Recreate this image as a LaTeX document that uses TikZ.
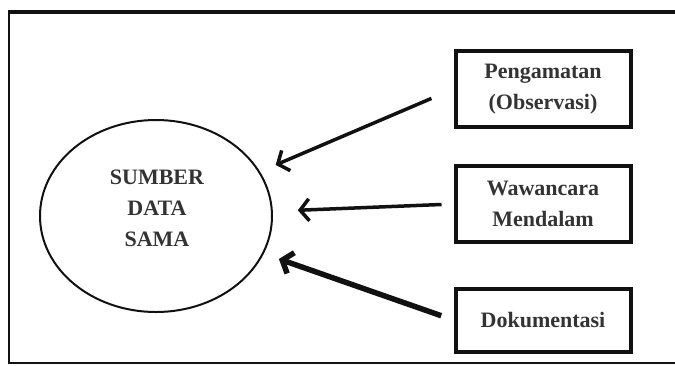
\documentclass[tikz,border=0pt]{standalone}
\usepackage{fontspec}
\setmainfont{Liberation Serif}
\usepackage{xcolor}
\usepackage{tikz}
\usetikzlibrary{arrows.meta,positioning,shapes.geometric}
\definecolor{inkc}{HTML}{111111}
\definecolor{textc}{HTML}{333333}
\tikzset{
  ar/.style={-{Straight Barb[length=9pt,width=22pt]},line width=3.5pt,inkc},
  srcbox/.style={draw=inkc,line width=4pt,minimum width=175pt,align=center,
    font=\fontsize{22}{31}\selectfont\bfseries,text=textc,inner sep=2pt},
  pool/.style={draw=inkc,ellipse,line width=2pt,minimum width=232pt,minimum height=192pt,
    inner sep=0pt}
}
\begin{document}
\begin{tikzpicture}[x=1pt,y=-1pt]
\useasboundingbox (0,0) rectangle (675,365);
\draw[inkc,line width=2.5pt] (9,12) rectangle (690,363);
\draw[inkc,line width=4.5pt] (7.75,12) -- (690,12);
% data source
\node[pool] (sumber) at (156,216) {};
\node[font=\fontsize{22}{31}\selectfont\bfseries,text=textc,align=center] (sumbertxt) at (157,208) {SUMBER\\DATA\\SAMA};
% techniques
\node[srcbox,minimum height=76pt] (obs) at (543,89) {Pengamatan\\(Observasi)};
\node[srcbox,minimum height=76pt] (wam) at (543,204) {Wawancara\\Mendalam};
\node[srcbox,minimum height=63pt] (dok) at (543,320) {Dokumentasi};
\draw[ar,shorten <=24pt,shorten >=17pt] (obs.west) -- (sumber);
\draw[ar,shorten <=12pt,shorten >=25pt] (wam.west) -- (sumber);
\draw[ar,line width=5.5pt,shorten <=13pt,shorten >=16pt] (dok.west) -- (sumber);
\end{tikzpicture}
\end{document}
